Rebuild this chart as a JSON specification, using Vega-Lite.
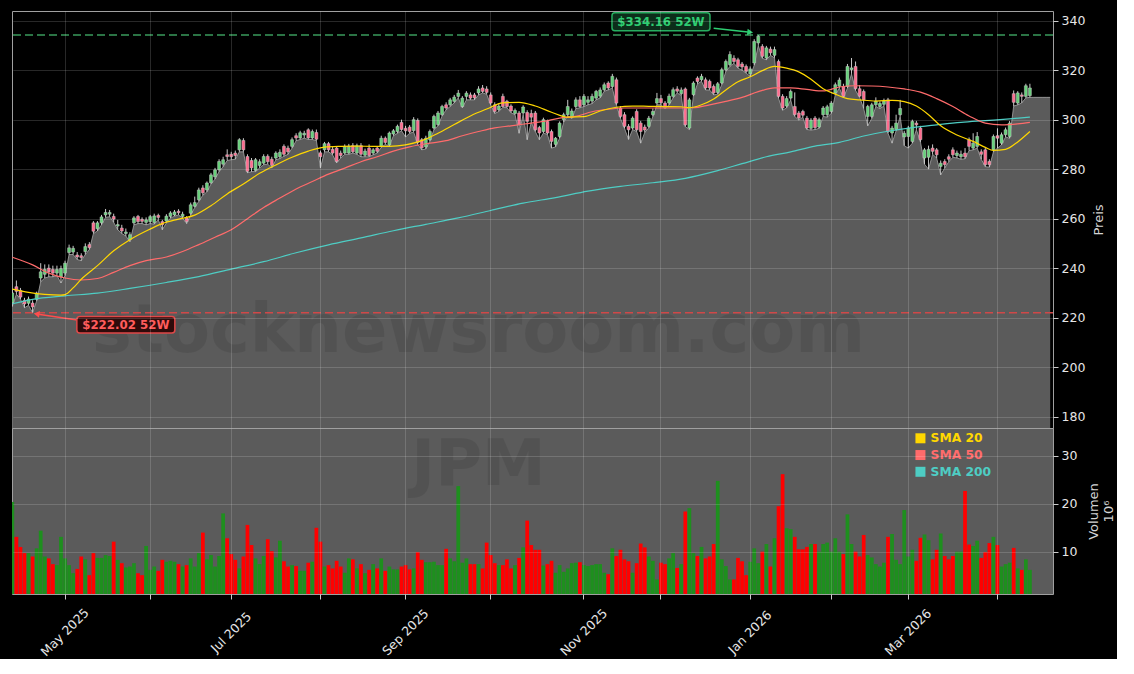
{
"$schema": "https://vega.github.io/schema/vega-lite/v6.json",
"background": "#000000",
"padding": {"left": 10, "top": 9, "right": 0, "bottom": 0},
"spacing": 0,
"bounds": "flush",
"resolve": {"scale": {"x": "shared"}},
"config": {
  "view": {"stroke": "#a0a0a0", "strokeWidth": 1},
  "text": {"font": "DejaVu Sans"},
  "axis": {"labelFont": "DejaVu Sans", "titleFont": "DejaVu Sans", "labelFontSize": 12.5, "labelColor": "#e6e6e6", "titleFontSize": 13, "titleFontWeight": "normal", "titleColor": "#d4d4d4", "tickColor": "#cccccc", "gridColor": "#ffffff", "gridOpacity": 0.2, "gridWidth": 0.8}
},
"data": {"values": [
{"d":"2025-04-11","o":226,"h":231.5,"l":224.5,"c":230,"v":20.4,"s20":231.5,"s50":244.4,"s200":225.6},
{"d":"2025-04-14","o":232.5,"h":235,"l":229.5,"c":230.6,"v":13.1},
{"d":"2025-04-15","o":231,"h":232,"l":227.5,"c":228.3,"v":11.0},
{"d":"2025-04-16","o":227,"h":228,"l":224,"c":225.5,"v":9.7},
{"d":"2025-04-17","o":225.8,"h":228.5,"l":225,"c":227.5,"v":9.7,"s20":230.2},
{"d":"2025-04-21","o":225.9,"h":227,"l":222.02,"c":224.3,"v":9.0,"s50":241.3,"s200":227.4},
{"d":"2025-04-22","o":227.4,"h":230.5,"l":226.8,"c":229.9,"v":10.7},
{"d":"2025-04-23","o":236,"h":242,"l":234.5,"c":238.5,"v":14.4},
{"d":"2025-04-24","o":237.5,"h":241.5,"l":236,"c":239.5,"v":9.0,"s20":229.4},
{"d":"2025-04-25","o":240,"h":241.5,"l":236.5,"c":238.5,"v":8.6,"s50":238},
{"d":"2025-04-28","o":239.5,"h":241,"l":236.5,"c":238,"v":7.4},
{"d":"2025-04-29","o":238,"h":241,"l":237,"c":239.5,"v":7.2},
{"d":"2025-04-30","o":236.5,"h":241,"l":234,"c":239.8,"v":13.1,"s20":229.1},
{"d":"2025-05-01","o":238,"h":243,"l":237,"c":242,"v":8.6,"s20":229.3,"s50":236,"s200":228.8},
{"d":"2025-05-02","o":246.3,"h":249.5,"l":245.5,"c":248.2,"v":7.2},
{"d":"2025-05-05","o":246.5,"h":249,"l":245.5,"c":248,"v":5.5,"s20":232},
{"d":"2025-05-06","o":245.3,"h":246.5,"l":243.5,"c":244.5,"v":6.4},
{"d":"2025-05-07","o":245,"h":246,"l":243,"c":244.3,"v":9.0,"s20":235.5,"s50":235.2},
{"d":"2025-05-08","o":246.7,"h":250,"l":245.5,"c":248.7,"v":8.4},
{"d":"2025-05-09","o":249.5,"h":250.5,"l":247.5,"c":248.3,"v":5.1},
{"d":"2025-05-12","o":258.3,"h":259,"l":254,"c":254.9,"v":9.7},
{"d":"2025-05-13","o":255.9,"h":259,"l":255,"c":258.3,"v":8.7,"s20":241,"s50":235.8,"s200":229.9},
{"d":"2025-05-14","o":258.3,"h":261.5,"l":257.5,"c":260.7,"v":8.7},
{"d":"2025-05-15","o":261.5,"h":263.9,"l":260.5,"c":262.5,"v":9.3},
{"d":"2025-05-16","o":261.8,"h":263.5,"l":260.8,"c":262.5,"v":9.1},
{"d":"2025-05-19","o":260.9,"h":262,"l":258.5,"c":259.8,"v":12.1,"s20":247,"s50":238.3},
{"d":"2025-05-20","o":257,"h":259.5,"l":255.5,"c":257.6,"v":8.3},
{"d":"2025-05-21","o":256.2,"h":257.5,"l":254,"c":255,"v":7.6},
{"d":"2025-05-22","o":254,"h":256,"l":253,"c":254.6,"v":6.7},
{"d":"2025-05-23","o":251.5,"h":254.5,"l":250.7,"c":253.5,"v":6.9,"s20":251.5,"s50":241,"s200":231.8},
{"d":"2025-05-27","o":258.3,"h":261,"l":257.5,"c":260.3,"v":7.6},
{"d":"2025-05-28","o":260.9,"h":261.5,"l":258,"c":258.8,"v":5.5},
{"d":"2025-05-29","o":259.7,"h":260.5,"l":258,"c":258.9,"v":5.1},
{"d":"2025-05-30","o":258.5,"h":260.5,"l":257.5,"c":259.5,"v":11.2,"s20":255,"s50":243},
{"d":"2025-06-02","o":258.8,"h":261.5,"l":258,"c":260.8,"v":6.2},
{"d":"2025-06-03","o":258.4,"h":262,"l":257.8,"c":261.1,"v":6.9},
{"d":"2025-06-04","o":261.3,"h":262,"l":259.5,"c":260.5,"v":6.0},
{"d":"2025-06-05","o":258.8,"h":259.5,"l":255.5,"c":257.5,"v":8.3,"s20":258},
{"d":"2025-06-06","o":259,"h":261.8,"l":258.3,"c":261,"v":7.9,"s50":244.5,"s200":234.2},
{"d":"2025-06-09","o":260.9,"h":263,"l":260.2,"c":262.3,"v":8.1},
{"d":"2025-06-10","o":261.5,"h":263.5,"l":261,"c":262.7,"v":7.9},
{"d":"2025-06-11","o":263,"h":263.8,"l":261.5,"c":262.4,"v":7.4,"s20":259.8},
{"d":"2025-06-12","o":260.9,"h":262.8,"l":260.2,"c":261.8,"v":6.9,"s50":246.7},
{"d":"2025-06-13","o":260.3,"h":261,"l":258,"c":258.8,"v":7.2},
{"d":"2025-06-16","o":262.2,"h":266.5,"l":261.5,"c":265.6,"v":8.6},
{"d":"2025-06-17","o":265,"h":268.9,"l":264.5,"c":266.5,"v":6.9,"s20":261.4},
{"d":"2025-06-18","o":267.6,"h":272.5,"l":267,"c":271.6,"v":9.7,"s50":249.5,"s200":236.6},
{"d":"2025-06-20","o":272.4,"h":273.5,"l":269.5,"c":270.4,"v":14.0},
{"d":"2025-06-23","o":271.6,"h":275,"l":270.8,"c":274.4,"v":8.4},
{"d":"2025-06-24","o":274.5,"h":278.5,"l":274,"c":277.7,"v":9.3,"s20":265.2},
{"d":"2025-06-25","o":276.9,"h":280.5,"l":276,"c":279.7,"v":6.9,"s50":252.5},
{"d":"2025-06-26","o":279.7,"h":284,"l":279,"c":283.1,"v":9.1},
{"d":"2025-06-27","o":282,"h":285,"l":281,"c":283.8,"v":18.0},
{"d":"2025-06-30","o":285.8,"h":288,"l":283.5,"c":285.1,"v":12.8,"s20":270},
{"d":"2025-07-01","o":286,"h":287,"l":283.8,"c":285,"v":9.5,"s50":255.5,"s200":239.6},
{"d":"2025-07-02","o":286.5,"h":287.5,"l":284,"c":285.5,"v":8.3},
{"d":"2025-07-03","o":287.8,"h":292.5,"l":287,"c":291.9,"v":6.5},
{"d":"2025-07-07","o":291.6,"h":292.5,"l":287,"c":287.8,"v":9.0,"s20":274},
{"d":"2025-07-08","o":285.1,"h":286,"l":278.5,"c":279.1,"v":15.6,"s50":260},
{"d":"2025-07-09","o":283.5,"h":284.5,"l":279,"c":280.5,"v":11.4},
{"d":"2025-07-10","o":279.5,"h":284.5,"l":279,"c":283.8,"v":8.6},
{"d":"2025-07-11","o":281.5,"h":284,"l":280.5,"c":283,"v":7.4,"s20":278.3},
{"d":"2025-07-14","o":282.4,"h":286,"l":281.8,"c":285.1,"v":9.1,"s50":264.5,"s200":242.6},
{"d":"2025-07-15","o":285.2,"h":286,"l":282,"c":283,"v":12.6},
{"d":"2025-07-16","o":284,"h":285,"l":280.5,"c":281.5,"v":10.1},
{"d":"2025-07-17","o":284.5,"h":287.2,"l":283.8,"c":286.5,"v":8.8,"s20":281.7},
{"d":"2025-07-18","o":285,"h":288,"l":284.3,"c":286.8,"v":12.3,"s50":268.3},
{"d":"2025-07-21","o":289.2,"h":290,"l":285.2,"c":286,"v":8.0},
{"d":"2025-07-22","o":288.5,"h":289.5,"l":286,"c":287,"v":6.9},
{"d":"2025-07-23","o":289.2,"h":292.8,"l":288.5,"c":291.9,"v":7.2,"s20":284.8},
{"d":"2025-07-24","o":293.5,"h":294.5,"l":291.5,"c":292.6,"v":7.0,"s50":272,"s200":246.2},
{"d":"2025-07-25","o":292.6,"h":295.5,"l":292,"c":294.7,"v":6.0},
{"d":"2025-07-28","o":293.8,"h":295.5,"l":292.5,"c":294.5,"v":6.0},
{"d":"2025-07-29","o":295.9,"h":296.5,"l":292,"c":292.6,"v":7.7,"s20":287.3},
{"d":"2025-07-30","o":292.6,"h":296,"l":292,"c":295.2,"v":7.9,"s50":275},
{"d":"2025-07-31","o":294.8,"h":296,"l":291.5,"c":292.1,"v":15.0},
{"d":"2025-08-01","o":286.6,"h":287.5,"l":280.5,"c":285,"v":12.1},
{"d":"2025-08-04","o":287.8,"h":291,"l":287,"c":290.3,"v":6.9,"s20":288.9},
{"d":"2025-08-05","o":290.3,"h":291,"l":287,"c":287.8,"v":7.2,"s50":278,"s200":249.4},
{"d":"2025-08-06","o":288,"h":289,"l":285.8,"c":286.5,"v":6.5},
{"d":"2025-08-07","o":288.5,"h":289,"l":282.5,"c":283.1,"v":8.1},
{"d":"2025-08-08","o":286.5,"h":287.5,"l":284.5,"c":285.5,"v":6.9,"s20":289.2},
{"d":"2025-08-11","o":286.5,"h":290,"l":286,"c":289.2,"v":5.6,"s50":280.4},
{"d":"2025-08-12","o":286.5,"h":290.2,"l":286,"c":289.3,"v":8.6},
{"d":"2025-08-13","o":289.5,"h":290.5,"l":286.5,"c":287,"v":8.4},
{"d":"2025-08-14","o":286.5,"h":290.3,"l":286,"c":289.5,"v":6.5,"s20":289.3},
{"d":"2025-08-15","o":289.5,"h":290.5,"l":285,"c":286,"v":7.4,"s50":283,"s200":252.2},
{"d":"2025-08-18","o":285.6,"h":288.3,"l":285,"c":287.3,"v":5.5},
{"d":"2025-08-19","o":288.5,"h":290,"l":285,"c":285.5,"v":6.2},
{"d":"2025-08-20","o":286.5,"h":288.5,"l":285.8,"c":287.8,"v":7.4,"s20":289.2},
{"d":"2025-08-21","o":288.5,"h":289.2,"l":286.5,"c":287.2,"v":6.5,"s50":285},
{"d":"2025-08-22","o":289.2,"h":293.5,"l":288.8,"c":292.5,"v":8.6},
{"d":"2025-08-25","o":292.5,"h":293.2,"l":290,"c":290.8,"v":6.0},
{"d":"2025-08-26","o":289.8,"h":295.2,"l":289.3,"c":294.6,"v":6.9,"s20":289.2},
{"d":"2025-08-27","o":294.2,"h":296.2,"l":293.5,"c":295.5,"v":6.3,"s50":287.3,"s200":255.1},
{"d":"2025-08-28","o":295.2,"h":298,"l":294.5,"c":297.3,"v":6.3},
{"d":"2025-08-29","o":298.9,"h":300,"l":295.5,"c":296,"v":6.9},
{"d":"2025-09-02","o":296.5,"h":297.5,"l":293,"c":295.5,"v":7.2,"s20":289.8},
{"d":"2025-09-03","o":297,"h":297.8,"l":294.5,"c":295.2,"v":6.3,"s50":289},
{"d":"2025-09-04","o":295.6,"h":301,"l":295,"c":300,"v":6.5},
{"d":"2025-09-05","o":299.7,"h":300.5,"l":290,"c":290.8,"v":9.9},
{"d":"2025-09-08","o":291.9,"h":292.6,"l":287.8,"c":288.6,"v":8.3,"s20":291.5},
{"d":"2025-09-09","o":289,"h":293.5,"l":288.2,"c":292.5,"v":7.8,"s200":257.7},
{"d":"2025-09-10","o":291.9,"h":296,"l":291.3,"c":295.2,"v":7.8,"s50":290.5},
{"d":"2025-09-11","o":296.6,"h":302,"l":296,"c":301.3,"v":7.9},
{"d":"2025-09-12","o":298,"h":303.5,"l":297.5,"c":302.7,"v":7.2,"s20":294.5},
{"d":"2025-09-15","o":302,"h":306,"l":301.5,"c":305.3,"v":7.2},
{"d":"2025-09-16","o":306,"h":307,"l":304,"c":304.7,"v":10.6,"s50":291.5},
{"d":"2025-09-17","o":306,"h":308.8,"l":305.3,"c":308,"v":8.6},
{"d":"2025-09-18","o":307.4,"h":310,"l":306.8,"c":309.1,"v":8.0,"s20":298},
{"d":"2025-09-19","o":309.4,"h":312,"l":308.8,"c":310.7,"v":23.7,"s200":260.3},
{"d":"2025-09-22","o":305.3,"h":309.5,"l":304.8,"c":308.7,"v":7.7,"s50":293.5},
{"d":"2025-09-23","o":309.4,"h":311.5,"l":308,"c":310.7,"v":8.6},
{"d":"2025-09-24","o":310,"h":311,"l":308,"c":308.7,"v":7.4,"s20":301.5},
{"d":"2025-09-25","o":310,"h":310.8,"l":308,"c":308.8,"v":7.4},
{"d":"2025-09-26","o":310.8,"h":313.5,"l":310,"c":312.4,"v":7.4,"s50":295.2},
{"d":"2025-09-29","o":312.8,"h":314,"l":310.8,"c":311.4,"v":6.5},
{"d":"2025-09-30","o":312.4,"h":313.5,"l":310.3,"c":311,"v":11.9,"s20":304.3},
{"d":"2025-10-01","o":310,"h":311,"l":306,"c":306.7,"v":9.3,"s200":263.3},
{"d":"2025-10-02","o":306,"h":307,"l":302.5,"c":303.3,"v":7.6,"s50":296.7},
{"d":"2025-10-03","o":304,"h":306.5,"l":303.3,"c":305.5,"v":7.2},
{"d":"2025-10-06","o":309.4,"h":310.5,"l":305,"c":305.3,"v":7.2,"s20":306.8},
{"d":"2025-10-07","o":307.4,"h":308,"l":304.8,"c":305.3,"v":8.4},
{"d":"2025-10-08","o":305.5,"h":306.2,"l":302.8,"c":303.5,"v":6.5,"s50":297.5},
{"d":"2025-10-09","o":302.5,"h":304.5,"l":302,"c":303.7,"v":7.2},
{"d":"2025-10-10","o":302.7,"h":303.5,"l":294.5,"c":297.9,"v":8.7,"s20":307},
{"d":"2025-10-13","o":302.7,"h":305.8,"l":302,"c":305.1,"v":10.9,"s200":266.3},
{"d":"2025-10-14","o":302.9,"h":303.8,"l":291.9,"c":299.3,"v":16.5,"s50":298.4},
{"d":"2025-10-15","o":302.5,"h":304,"l":299,"c":301,"v":11.4},
{"d":"2025-10-16","o":302.7,"h":303.5,"l":295.2,"c":295.9,"v":10.4,"s20":305.5},
{"d":"2025-10-17","o":296.8,"h":297.5,"l":291.9,"c":294.6,"v":10.4},
{"d":"2025-10-20","o":295.2,"h":300.8,"l":294.6,"c":300,"v":7.1,"s50":299.3},
{"d":"2025-10-21","o":299.3,"h":300,"l":294,"c":294.6,"v":7.4},
{"d":"2025-10-22","o":295.2,"h":296,"l":288.5,"c":291.2,"v":8.1,"s20":303},
{"d":"2025-10-23","o":290,"h":293,"l":289,"c":292.5,"v":5.6,"s200":268.5},
{"d":"2025-10-24","o":293.2,"h":299.3,"l":292.5,"c":298.6,"v":7.2,"s50":300.6},
{"d":"2025-10-27","o":300,"h":302.8,"l":299,"c":302,"v":5.8},
{"d":"2025-10-28","o":302,"h":308,"l":301.5,"c":305.3,"v":6.5,"s20":301},
{"d":"2025-10-29","o":301,"h":304.5,"l":300.5,"c":303.5,"v":7.6},
{"d":"2025-10-30","o":305.3,"h":309,"l":304.5,"c":308,"v":7.7,"s50":301.3},
{"d":"2025-10-31","o":308,"h":309.5,"l":304.8,"c":305.3,"v":7.8},
{"d":"2025-11-03","o":306,"h":310.3,"l":305.3,"c":309.4,"v":7.2,"s20":301.2},
{"d":"2025-11-04","o":307,"h":309.5,"l":306,"c":308,"v":7.0,"s200":271.1},
{"d":"2025-11-05","o":307.5,"h":310.5,"l":306.5,"c":309.4,"v":7.2,"s50":303.2},
{"d":"2025-11-06","o":308.7,"h":312,"l":308,"c":311.4,"v":7.4},
{"d":"2025-11-07","o":309.5,"h":313,"l":308.8,"c":312,"v":7.4,"s20":303.5},
{"d":"2025-11-10","o":312.1,"h":315,"l":311.5,"c":314.1,"v":5.6},
{"d":"2025-11-11","o":314.8,"h":315.5,"l":312,"c":312.8,"v":5.3,"s50":304.2},
{"d":"2025-11-12","o":313.4,"h":318.5,"l":312.8,"c":317.5,"v":10.7},
{"d":"2025-11-13","o":316.1,"h":317,"l":306,"c":306.7,"v":9.1,"s20":305},
{"d":"2025-11-14","o":304.7,"h":305.5,"l":300.5,"c":301.3,"v":10.4,"s200":273},
{"d":"2025-11-17","o":302,"h":303,"l":296.5,"c":297.3,"v":8.4,"s50":304.7},
{"d":"2025-11-18","o":297.3,"h":298.2,"l":292,"c":295.9,"v":8.0},
{"d":"2025-11-19","o":296.6,"h":301.3,"l":296,"c":300.6,"v":5.6,"s20":305.5},
{"d":"2025-11-20","o":303.3,"h":304.2,"l":295.2,"c":295.9,"v":7.6},
{"d":"2025-11-21","o":298.6,"h":299.5,"l":290.5,"c":295.2,"v":11.7,"s50":304.7},
{"d":"2025-11-24","o":297,"h":298,"l":294.8,"c":295.8,"v":10.9},
{"d":"2025-11-25","o":297.3,"h":301.5,"l":296.7,"c":300.6,"v":9.0,"s20":305.4},
{"d":"2025-11-26","o":302,"h":304.5,"l":301.3,"c":303.3,"v":8.1,"s200":274.5},
{"d":"2025-11-28","o":306.7,"h":310.8,"l":306,"c":308.5,"v":4.2,"s50":304.7},
{"d":"2025-12-01","o":308.5,"h":310,"l":306,"c":306.8,"v":7.7},
{"d":"2025-12-02","o":306.7,"h":307.5,"l":304.5,"c":305.3,"v":7.4,"s20":305.3},
{"d":"2025-12-03","o":306.7,"h":310.5,"l":306,"c":309.5,"v":8.6},
{"d":"2025-12-04","o":309.4,"h":313,"l":308.8,"c":312.1,"v":9.7,"s50":304.7},
{"d":"2025-12-05","o":312.4,"h":313.5,"l":310.8,"c":311.5,"v":6.6},
{"d":"2025-12-08","o":310.5,"h":313,"l":309.8,"c":312,"v":7.4,"s20":305.2},
{"d":"2025-12-09","o":312.4,"h":313,"l":297.2,"c":297.9,"v":18.4,"s200":276.3},
{"d":"2025-12-10","o":296.6,"h":308.8,"l":296,"c":308,"v":19.1,"s20":304.8},
{"d":"2025-12-11","o":310.1,"h":315.5,"l":309.5,"c":314.8,"v":9.7,"s50":304.8},
{"d":"2025-12-12","o":316.8,"h":317.5,"l":314.5,"c":315.4,"v":9.1},
{"d":"2025-12-15","o":316.1,"h":318.5,"l":315.5,"c":317.5,"v":11.0,"s20":306},
{"d":"2025-12-16","o":316.1,"h":317,"l":312,"c":312.8,"v":8.6},
{"d":"2025-12-17","o":315.5,"h":316.2,"l":312,"c":312.8,"v":9.0,"s50":306},
{"d":"2025-12-18","o":313.4,"h":314.2,"l":310,"c":310.8,"v":11.6,"s20":308.3},
{"d":"2025-12-19","o":311,"h":315.2,"l":310.3,"c":314.5,"v":24.8,"s200":279.4},
{"d":"2025-12-22","o":314.8,"h":321,"l":314.2,"c":320.2,"v":8.4},
{"d":"2025-12-23","o":320.2,"h":324.3,"l":319.5,"c":323.5,"v":7.0,"s20":312,"s50":307.4},
{"d":"2025-12-24","o":322.2,"h":327.6,"l":321.5,"c":326.3,"v":4.2},
{"d":"2025-12-26","o":324.8,"h":326,"l":322.8,"c":323.5,"v":4.2},
{"d":"2025-12-29","o":324.2,"h":325,"l":320.8,"c":321.5,"v":8.7,"s20":315.3},
{"d":"2025-12-30","o":322.5,"h":323.3,"l":320,"c":321.3,"v":8.0,"s50":309,"s200":282.2},
{"d":"2025-12-31","o":321.5,"h":322.3,"l":318.8,"c":319.5,"v":5.1},
{"d":"2026-01-02","o":318.5,"h":321.5,"l":317.5,"c":320.5,"v":7.9,"s20":317.3},
{"d":"2026-01-05","o":322.9,"h":332.5,"l":322,"c":331.6,"v":10.7},
{"d":"2026-01-06","o":331,"h":334.16,"l":330,"c":333.7,"v":7.6,"s50":311.3},
{"d":"2026-01-07","o":329.6,"h":330.5,"l":324.8,"c":325.6,"v":10.0,"s20":319.8},
{"d":"2026-01-08","o":324.9,"h":329.8,"l":324.2,"c":329,"v":11.6,"s200":285},
{"d":"2026-01-09","o":328.5,"h":329.5,"l":326,"c":327,"v":6.9},
{"d":"2026-01-12","o":326,"h":329.5,"l":325,"c":328.3,"v":12.8,"s20":321.5,"s50":312.8},
{"d":"2026-01-13","o":323.5,"h":324.3,"l":308.6,"c":309.4,"v":19.5},
{"d":"2026-01-14","o":309.4,"h":310.3,"l":303.8,"c":304.7,"v":26.2},
{"d":"2026-01-15","o":305.5,"h":309.5,"l":304.8,"c":308.5,"v":14.9,"s20":320.8},
{"d":"2026-01-16","o":308.7,"h":312.2,"l":308,"c":311.4,"v":14.7,"s50":312.8,"s200":287},
{"d":"2026-01-20","o":305.3,"h":311,"l":301.3,"c":302,"v":13.1},
{"d":"2026-01-21","o":302.7,"h":303.5,"l":299.8,"c":300.6,"v":10.5,"s20":319.3},
{"d":"2026-01-22","o":303.3,"h":304,"l":301,"c":301.8,"v":10.5},
{"d":"2026-01-23","o":300.6,"h":301.5,"l":296,"c":296.6,"v":11.0,"s50":312.2},
{"d":"2026-01-26","o":296.5,"h":300.6,"l":295.8,"c":299.8,"v":11.6,"s20":316.3},
{"d":"2026-01-27","o":300.6,"h":301.4,"l":296,"c":296.8,"v":11.6,"s200":289.3},
{"d":"2026-01-28","o":297,"h":300.8,"l":296.5,"c":300,"v":10.0},
{"d":"2026-01-29","o":302,"h":305.5,"l":301.3,"c":304.7,"v":11.6,"s20":312.5,"s50":311.6},
{"d":"2026-01-30","o":302,"h":306,"l":301,"c":305.2,"v":11.9},
{"d":"2026-02-02","o":303.3,"h":307.5,"l":302.5,"c":306.7,"v":10.0},
{"d":"2026-02-03","o":310.8,"h":315,"l":310,"c":314.1,"v":12.8,"s20":310.3},
{"d":"2026-02-04","o":313.5,"h":317,"l":312.8,"c":316,"v":10.0,"s50":313.2,"s200":290.8},
{"d":"2026-02-05","o":313.4,"h":314.5,"l":308.8,"c":309.4,"v":9.5},
{"d":"2026-02-06","o":313.4,"h":322.5,"l":312.8,"c":321.5,"v":17.8,"s20":308.5},
{"d":"2026-02-09","o":320.2,"h":324.9,"l":318.5,"c":320.9,"v":11.6},
{"d":"2026-02-10","o":321.5,"h":323.5,"l":311.8,"c":312.5,"v":10.0,"s50":313.7},
{"d":"2026-02-11","o":312.5,"h":314,"l":309,"c":309.5,"v":9.0,"s20":308},
{"d":"2026-02-12","o":311.4,"h":312.2,"l":304.5,"c":308,"v":13.5,"s200":293.4},
{"d":"2026-02-13","o":301.3,"h":306,"l":297.5,"c":305.3,"v":9.3},
{"d":"2026-02-17","o":301.3,"h":306.8,"l":300.5,"c":306,"v":8.8,"s50":313.6},
{"d":"2026-02-18","o":306,"h":309,"l":305.3,"c":307.5,"v":7.4,"s20":307.5},
{"d":"2026-02-19","o":305.3,"h":307.4,"l":304.5,"c":306.5,"v":6.9},
{"d":"2026-02-20","o":306.2,"h":308.5,"l":305.5,"c":307.5,"v":7.7},
{"d":"2026-02-23","o":308,"h":308.8,"l":294.5,"c":295.2,"v":13.1,"s50":313.2,"s200":295.3},
{"d":"2026-02-24","o":294.6,"h":297.5,"l":290.5,"c":296.6,"v":13.7,"s20":307.8},
{"d":"2026-02-25","o":296,"h":302,"l":295.5,"c":298.6,"v":8.3},
{"d":"2026-02-26","o":302,"h":308,"l":301.3,"c":304.5,"v":7.4},
{"d":"2026-02-27","o":293,"h":295.5,"l":289.5,"c":294.5,"v":18.7,"s20":307.3,"s50":312.4},
{"d":"2026-03-02","o":293.2,"h":297.5,"l":288.5,"c":296.6,"v":9.0},
{"d":"2026-03-03","o":291.2,"h":300,"l":290.5,"c":299.3,"v":10.4,"s200":296.8},
{"d":"2026-03-04","o":298.6,"h":299.5,"l":296,"c":297.9,"v":8.1,"s20":305.5},
{"d":"2026-03-05","o":296.6,"h":297.5,"l":291,"c":291.9,"v":12.9,"s50":311.1},
{"d":"2026-03-06","o":284.5,"h":288.5,"l":282,"c":287.8,"v":13.6},
{"d":"2026-03-09","o":284.8,"h":289.5,"l":280,"c":288,"v":12.4,"s20":302},
{"d":"2026-03-10","o":288.5,"h":290,"l":286,"c":287.2,"v":8.4},
{"d":"2026-03-11","o":287.8,"h":288.5,"l":284.5,"c":285.8,"v":10.4,"s50":308.5,"s200":297.9},
{"d":"2026-03-12","o":281.1,"h":283.5,"l":277.7,"c":282.4,"v":13.8,"s20":297.5},
{"d":"2026-03-13","o":283.1,"h":284,"l":280.5,"c":281.8,"v":9.1},
{"d":"2026-03-16","o":285,"h":286,"l":283,"c":284,"v":8.4},
{"d":"2026-03-17","o":287.8,"h":288.8,"l":284.8,"c":285.8,"v":9.1,"s50":305.3},
{"d":"2026-03-18","o":285.5,"h":287.5,"l":284.5,"c":286.5,"v":10.0,"s20":293.8},
{"d":"2026-03-19","o":285,"h":287.5,"l":284,"c":286,"v":10.0,"s200":298.9},
{"d":"2026-03-20","o":286.5,"h":288.5,"l":284.2,"c":285,"v":22.7},
{"d":"2026-03-23","o":291.9,"h":292.8,"l":287.5,"c":289.2,"v":11.5,"s50":301.5},
{"d":"2026-03-24","o":288.5,"h":294.5,"l":287.8,"c":290.5,"v":11.2,"s20":291.2},
{"d":"2026-03-25","o":289.2,"h":295,"l":288.5,"c":293.2,"v":12.3},
{"d":"2026-03-26","o":287,"h":288,"l":284,"c":286,"v":8.7},
{"d":"2026-03-27","o":287.8,"h":288.5,"l":281,"c":281.8,"v":9.9,"s20":288.8,"s50":298.6,"s200":299.6},
{"d":"2026-03-30","o":283.1,"h":284,"l":280.8,"c":281.8,"v":11.8},
{"d":"2026-03-31","o":287.8,"h":294,"l":287,"c":293.2,"v":13.1,"s20":287.6},
{"d":"2026-04-01","o":293.5,"h":296.5,"l":288.5,"c":292.5,"v":11.4},
{"d":"2026-04-02","o":290.5,"h":294.8,"l":289.8,"c":293.9,"v":6.9,"s50":297.9},
{"d":"2026-04-06","o":293.9,"h":296.8,"l":293,"c":295.9,"v":7.4,"s20":288},
{"d":"2026-04-07","o":293.2,"h":299.5,"l":292.5,"c":298.6,"v":7.7,"s200":300.3},
{"d":"2026-04-08","o":310.5,"h":311.8,"l":305.5,"c":307,"v":10.8},
{"d":"2026-04-09","o":306.7,"h":311.5,"l":306,"c":310.8,"v":6.5,"s20":291,"s50":298.3},
{"d":"2026-04-10","o":310,"h":311,"l":306.8,"c":309.4,"v":6.2},
{"d":"2026-04-13","o":309.4,"h":314.5,"l":308.8,"c":313.7,"v":8.4},
{"d":"2026-04-14","o":309.7,"h":314.5,"l":309,"c":312.8,"v":6.2,"s20":295.2,"s50":298.9,"s200":301},
{"d":"2026-04-15","l":309},
{"d":"2026-04-16","l":309},
{"d":"2026-04-17","l":309},
{"d":"2026-04-20","l":309},
{"d":"2026-04-21","l":309}
]},
"vconcat": [
{
  "width": 1041, "height": 417,
  "view": {"fill": "#000000", "stroke": "#a0a0a0"},
  "layer": [
    {"mark": {"type": "area", "color": "#5b5b5b", "clip": true, "invalid": "filter"},
     "encoding": {
       "x": {"field": "d", "type": "ordinal", "scale": {"type": "band", "paddingInner": 0, "paddingOuter": 0, "range": [-1.7, 1040.2]},
             "axis": {"values": ["2025-05-01","2025-06-02","2025-07-01","2025-08-01","2025-09-02","2025-10-01","2025-11-03","2025-12-01","2026-01-02","2026-02-02","2026-03-02","2026-04-01"], "labels": false, "ticks": false, "domain": false, "grid": true, "title": null, "zindex": 1}},
       "y": {"field": "l", "type": "quantitative", "scale": {"domain": [175.4, 343.9], "zero": false, "nice": false},
             "axis": {"orient": "right", "values": [180,200,220,240,260,280,300,320,340], "title": "Preis", "titleAngle": 270, "grid": true, "tickSize": 5, "labelPadding": 3, "titlePadding": 21, "domain": false, "zindex": 1}},
       "y2": {"datum": 175.4}
     }},
    {"mark": {"type": "line", "color": "#a8a8a8", "strokeWidth": 0.8, "clip": true, "invalid": "filter"},
     "encoding": {"x": {"field": "d", "type": "ordinal"}, "y": {"field": "l", "type": "quantitative"}}},
    {"data": {"values": [{}]},
     "mark": {"type": "text", "text": "stocknewsroom.com", "font": "DejaVu Sans", "fontWeight": "bold", "fontSize": 67, "color": "#000000", "opacity": 0.09, "align": "center", "baseline": "alphabetic"},
     "encoding": {"x": {"datum": "2025-09-26", "type": "ordinal"}, "y": {"datum": 206.1, "type": "quantitative"}}},
    {"data": {"values": [{}]},
     "mark": {"type": "rule", "color": "#3a9a5c", "strokeWidth": 1.5, "strokeDash": [8, 4]},
     "encoding": {"y": {"datum": 334.16, "type": "quantitative"}}},
    {"data": {"values": [{}]},
     "mark": {"type": "rule", "color": "#d04848", "strokeWidth": 1.5, "strokeDash": [8, 4]},
     "encoding": {"y": {"datum": 222.02, "type": "quantitative"}}},
    {"mark": {"type": "rule", "color": "#c8c8c8", "strokeWidth": 1, "clip": true},
     "encoding": {"x": {"field": "d", "type": "ordinal"}, "y": {"field": "l", "type": "quantitative"}, "y2": {"field": "h"}}},
    {"mark": {"type": "bar", "width": {"band": 0.72}, "stroke": "#c8c8c8", "strokeWidth": 0.5, "clip": true},
     "encoding": {"x": {"field": "d", "type": "ordinal"}, "y": {"field": "o", "type": "quantitative"}, "y2": {"field": "c"},
       "color": {"condition": {"test": "datum.c >= datum.o", "value": "#66d17a"}, "value": "#ff6b8e"}}},
    {"mark": {"type": "line", "color": "#4ECDC4", "strokeWidth": 1.2, "interpolate": "monotone", "clip": true, "invalid": "filter"},
     "encoding": {"x": {"field": "d", "type": "ordinal"}, "y": {"field": "s200", "type": "quantitative"}}},
    {"mark": {"type": "line", "color": "#FF6B6B", "strokeWidth": 1.2, "interpolate": "monotone", "clip": true, "invalid": "filter"},
     "encoding": {"x": {"field": "d", "type": "ordinal"}, "y": {"field": "s50", "type": "quantitative"}}},
    {"mark": {"type": "line", "color": "#FFD700", "strokeWidth": 1.2, "interpolate": "monotone", "clip": true, "invalid": "filter"},
     "encoding": {"x": {"field": "d", "type": "ordinal"}, "y": {"field": "s20", "type": "quantitative"}}},
    {"data": {"values": [{}]},
     "mark": {"type": "rule", "color": "#2ecc71", "strokeWidth": 1.5},
     "encoding": {"x": {"datum": "2025-12-18", "type": "ordinal"}, "x2": {"datum": "2026-01-02"}, "y": {"datum": 336.9, "type": "quantitative"}, "y2": {"datum": 335.3}}},
    {"data": {"values": [{}]},
     "mark": {"type": "point", "shape": "triangle-right", "filled": true, "size": 45, "angle": 6, "color": "#2ecc71", "opacity": 1},
     "encoding": {"x": {"datum": "2026-01-02", "type": "ordinal"}, "y": {"datum": 335.3, "type": "quantitative"}}},
    {"data": {"values": [{}]},
     "mark": {"type": "rule", "color": "#ff4d4d", "strokeWidth": 1.5},
     "encoding": {"x": {"datum": "2025-05-06", "type": "ordinal"}, "x2": {"datum": "2025-04-22"}, "y": {"datum": 219.0, "type": "quantitative"}, "y2": {"datum": 221.5}}},
    {"data": {"values": [{}]},
     "mark": {"type": "point", "shape": "triangle-left", "filled": true, "size": 45, "angle": 9, "color": "#ff4d4d", "opacity": 1},
     "encoding": {"x": {"datum": "2025-04-22", "type": "ordinal"}, "y": {"datum": 221.5, "type": "quantitative"}}},
    {"data": {"values": [{}]},
     "mark": {"type": "point", "shape": "M-0.9388,-0.1837L0.9388,-0.1837Q1,-0.1837,1,-0.1225L1,0.1225Q1,0.1837,0.9388,0.1837L-0.9388,0.1837Q-1,0.1837,-1,0.1225L-1,-0.1225Q-1,-0.1837,-0.9388,-0.1837Z", "size": 9604, "filled": true, "fill": "#0c2e1a", "stroke": "#27ae60", "strokeWidth": 1.5, "opacity": 1},
     "encoding": {"x": {"datum": "2025-12-01", "type": "ordinal"}, "y": {"datum": 339.6, "type": "quantitative"}}},
    {"data": {"values": [{}]},
     "mark": {"type": "text", "text": "$334.16 52W", "font": "DejaVu Sans", "fontWeight": "bold", "fontSize": 11.8, "color": "#2ecc71", "align": "center", "baseline": "middle"},
     "encoding": {"x": {"datum": "2025-12-01", "type": "ordinal"}, "y": {"datum": 339.6, "type": "quantitative"}}},
    {"data": {"values": [{}]},
     "mark": {"type": "point", "shape": "M-0.9388,-0.1684L0.9388,-0.1684Q1,-0.1684,1,-0.1071L1,0.1071Q1,0.1684,0.9388,0.1684L-0.9388,0.1684Q-1,0.1684,-1,0.1071L-1,-0.1071Q-1,-0.1684,-0.9388,-0.1684Z", "size": 9604, "filled": true, "fill": "#2e0b0b", "stroke": "#e04848", "strokeWidth": 1.5, "opacity": 1},
     "encoding": {"x": {"datum": "2025-05-22", "type": "ordinal"}, "y": {"datum": 217.1, "type": "quantitative"}}},
    {"data": {"values": [{}]},
     "mark": {"type": "text", "text": "$222.02 52W", "font": "DejaVu Sans", "fontWeight": "bold", "fontSize": 11.8, "color": "#ff5c5c", "align": "center", "baseline": "middle"},
     "encoding": {"x": {"datum": "2025-05-22", "type": "ordinal"}, "y": {"datum": 217.1, "type": "quantitative"}}}
  ]
},
{
  "width": 1041, "height": 166,
  "view": {"fill": "#5b5b5b", "stroke": "#a0a0a0"},
  "layer": [
    {"mark": {"type": "bar", "width": {"band": 0.92}, "clip": true},
     "encoding": {
       "x": {"field": "d", "type": "ordinal", "scale": {"type": "band", "paddingInner": 0, "paddingOuter": 0, "range": [-1.7, 1040.2]},
             "axis": {"values": ["2025-05-01","2025-06-02","2025-07-01","2025-08-01","2025-09-02","2025-10-01","2025-11-03","2025-12-01","2026-01-02","2026-02-02","2026-03-02","2026-04-01"], "grid": true, "zindex": 1, "domain": false, "title": null, "tickSize": 5, "labelExpr": "utcmonth(toDate(datum.value)) % 2 == 0 ? utcFormat(toDate(datum.value), '%b %Y') : ''", "labelAngle": -45, "labelAlign": "center", "labelBaseline": "middle", "labelPadding": 33, "labelOverlap": false, "labelBound": false}},
       "y": {"field": "v", "type": "quantitative", "scale": {"domain": [1.16, 35.85], "zero": false, "nice": false},
             "axis": {"orient": "right", "values": [10, 20, 30], "title": ["Volumen", "10⁶"], "titleAngle": 270, "grid": true, "tickSize": 5, "labelPadding": 3, "titlePadding": 9, "domain": false, "zindex": 1}},
       "y2": {"datum": 0},
       "color": {"condition": {"test": "datum.c >= datum.o", "value": "#1e8f1e"}, "value": "#ff0000"}
     }},
    {"data": {"values": [{}]},
     "mark": {"type": "text", "text": "JPM", "font": "DejaVu Sans", "fontWeight": "bold", "fontSize": 64, "color": "#000000", "opacity": 0.09, "align": "center", "baseline": "alphabetic"},
     "encoding": {"x": {"datum": "2025-09-26", "type": "ordinal"}, "y": {"datum": 23.9, "type": "quantitative"}}},
    {"data": {"values": [{}]},
     "mark": {"type": "point", "shape": "square", "filled": true, "size": 100, "color": "#FFD700", "opacity": 1},
     "encoding": {"x": {"datum": "2026-03-05", "type": "ordinal"}, "y": {"datum": 33.7, "type": "quantitative"}}},
    {"data": {"values": [{}]},
     "mark": {"type": "point", "shape": "square", "filled": true, "size": 100, "color": "#FF6B6B", "opacity": 1},
     "encoding": {"x": {"datum": "2026-03-05", "type": "ordinal"}, "y": {"datum": 30.2, "type": "quantitative"}}},
    {"data": {"values": [{}]},
     "mark": {"type": "point", "shape": "square", "filled": true, "size": 100, "color": "#4ECDC4", "opacity": 1},
     "encoding": {"x": {"datum": "2026-03-05", "type": "ordinal"}, "y": {"datum": 26.7, "type": "quantitative"}}},
    {"data": {"values": [{}]},
     "mark": {"type": "text", "text": "SMA 20", "font": "DejaVu Sans", "fontWeight": "bold", "fontSize": 12.3, "color": "#FFD700", "align": "left", "baseline": "middle", "dx": 2},
     "encoding": {"x": {"datum": "2026-03-09", "type": "ordinal"}, "y": {"datum": 33.7, "type": "quantitative"}}},
    {"data": {"values": [{}]},
     "mark": {"type": "text", "text": "SMA 50", "font": "DejaVu Sans", "fontWeight": "bold", "fontSize": 12.3, "color": "#FF6B6B", "align": "left", "baseline": "middle", "dx": 2},
     "encoding": {"x": {"datum": "2026-03-09", "type": "ordinal"}, "y": {"datum": 30.2, "type": "quantitative"}}},
    {"data": {"values": [{}]},
     "mark": {"type": "text", "text": "SMA 200", "font": "DejaVu Sans", "fontWeight": "bold", "fontSize": 12.3, "color": "#4ECDC4", "align": "left", "baseline": "middle", "dx": 2},
     "encoding": {"x": {"datum": "2026-03-09", "type": "ordinal"}, "y": {"datum": 26.7, "type": "quantitative"}}}
  ]
}
]
}
